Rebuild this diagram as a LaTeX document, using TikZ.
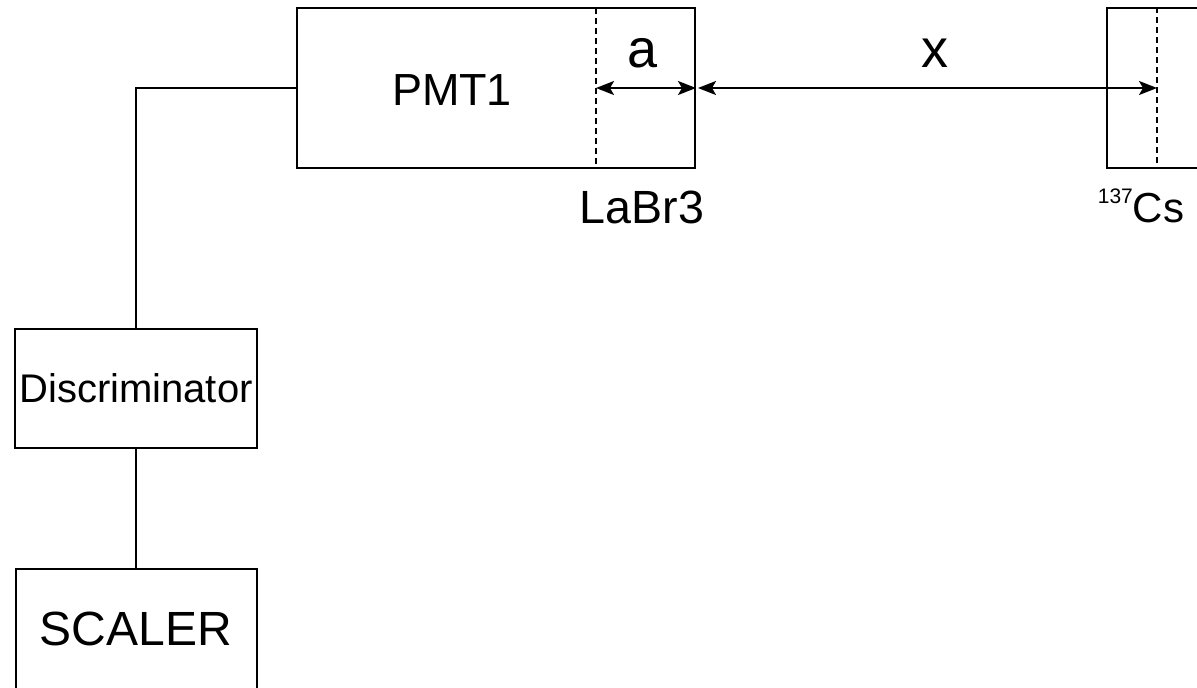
\documentclass[tikz,border=0pt]{standalone}
\usepackage{fontspec}
\setmainfont{Liberation Sans}
\usetikzlibrary{positioning,arrows.meta,calc}

\begin{document}
\begin{tikzpicture}[
  x=0.5pt, y=-0.5pt,
  box/.style={draw, line width=1pt, inner sep=0pt},
  lbl/.style={inner sep=0pt},
  arr/.style={{Stealth[length=9pt,width=7pt,inset=2pt]}-{Stealth[length=9pt,width=7pt,inset=2pt]}, line width=1pt},
  wire/.style={line width=1pt},
  cut/.style={dash pattern=on 3pt off 2pt, line width=0.8pt}
]
\clip (0,0) rectangle (1197,687);

% detector head and source
\node[box, minimum width=199pt, minimum height=80pt] (pmt) at (496,88) {};
\node[lbl, font=\fontsize{22.5}{26}\selectfont] (pmtname) at (452,90) {PMT1};
\coordinate (xtal) at (596,8);
\draw[cut] (xtal) -- (xtal |- pmt.south);
\node[box, minimum width=50pt, minimum height=80pt] (src) at (1157,88) {};
\draw[cut] (src.north) -- (src.south);

% distances
\draw[arr] (xtal |- pmt.east) -- (pmt.east);
\draw[arr] ([xshift=1pt]pmt.east) -- (src.center);
\node[lbl, font=\fontsize{27}{30}\selectfont] (alab) at (643,53) {a};
\node[lbl, font=\fontsize{27}{30}\selectfont] (xlab) at (935,53) {x};
\node[lbl, font=\fontsize{23.3}{27}\selectfont] (xtallab) at (642,207) {LaBr3};
\node[lbl, font=\fontsize{21}{24}\selectfont] (srclab) at (1141,206) {\raisebox{9.5pt}{\fontsize{10.5}{12}\selectfont 137}Cs};

% electronics
\node[box, minimum width=121pt, minimum height=59.5pt, font=\fontsize{20}{24}\selectfont] (disc) at (136,388.5) {Discriminator};
\node[box, minimum width=120.5pt, minimum height=60pt, font=\fontsize{24}{27}\selectfont] (scaler) at (136,629) {SCALER};
\draw[wire] (pmt.west) -| (disc.north);
\draw[wire] (disc) -- (scaler);
\end{tikzpicture}
\end{document}
